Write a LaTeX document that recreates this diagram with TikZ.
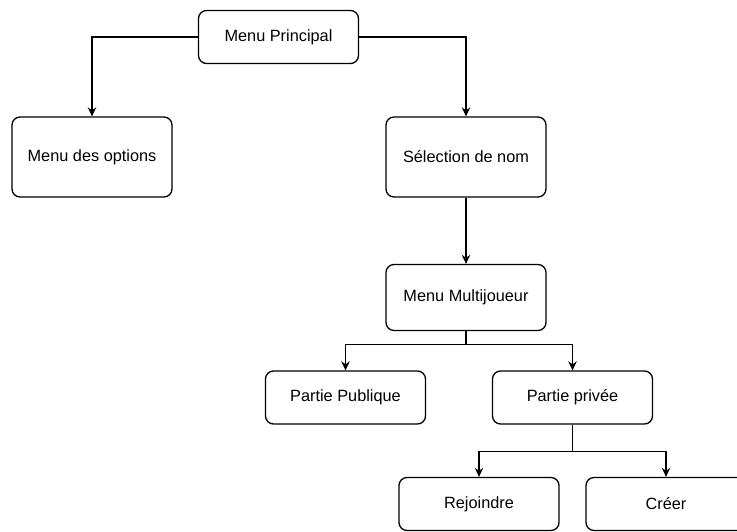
\documentclass[tikz,border=0pt]{standalone}
\usepackage{fontspec}
\setmainfont{Liberation Sans}
\usetikzlibrary{arrows.meta}
\tikzstyle{block} = [rectangle, draw, rounded corners=8pt, line width=1.3pt, text centered, minimum width=160pt, minimum height=53pt, font=\fontsize{16.3}{19}\selectfont]
\tikzstyle{tall} = [block, minimum height=80pt]
\tikzstyle{mid} = [block, minimum height=66pt]
\tikzstyle{line} = [draw, line width=1.3pt, -{Stealth[length=9pt,width=8.5pt]}]

\begin{document}
\begin{tikzpicture}[x=1pt, y=-1pt]
	\useasboundingbox (0,0) rectangle (737,532);
	\node [block] (menu) at (278.5,37) {Menu Principal};
	\node [tall, below of=menu, node distance=120pt, xshift=187.5pt] (nom) {Sélection de nom};
	\node [tall, left of=nom, node distance=374pt] (options) {Menu des options};
	\node [mid, below of=nom, node distance=140.5pt] (multi) {Menu Multijoueur};
	\node [block, below of=multi, node distance=100pt, xshift=-120.5pt] (publique) {Partie Publique};
	\node [block, right of=publique, node distance=227pt] (privee) {Partie privée};
	\node [block, below of=privee, node distance=106.5pt, xshift=-93.5pt] (rejoindre) {Rejoindre};
	\node [block, right of=rejoindre, node distance=187pt] (creer) {Créer};
	\path (multi.south) ++(0,13.5) coordinate (fork1);
	\path (privee.south) ++(0,26.7) coordinate (fork2);
	\path [line] (menu.west) -| (options.north);
	\path [line] (menu.east) -| (nom.north);
	\path [line] (nom) -- (multi);
	\draw [line width=1.3pt] (multi.south) -- (fork1);
	\path [line] (fork1) -| (publique.north);
	\path [line] (fork1) -| (privee.north);
	\draw [line width=1.3pt] (privee.south) -- (fork2);
	\path [line] (fork2) -| (rejoindre.north);
	\path [line] (fork2) -| (creer.north);
\end{tikzpicture}
\end{document}
